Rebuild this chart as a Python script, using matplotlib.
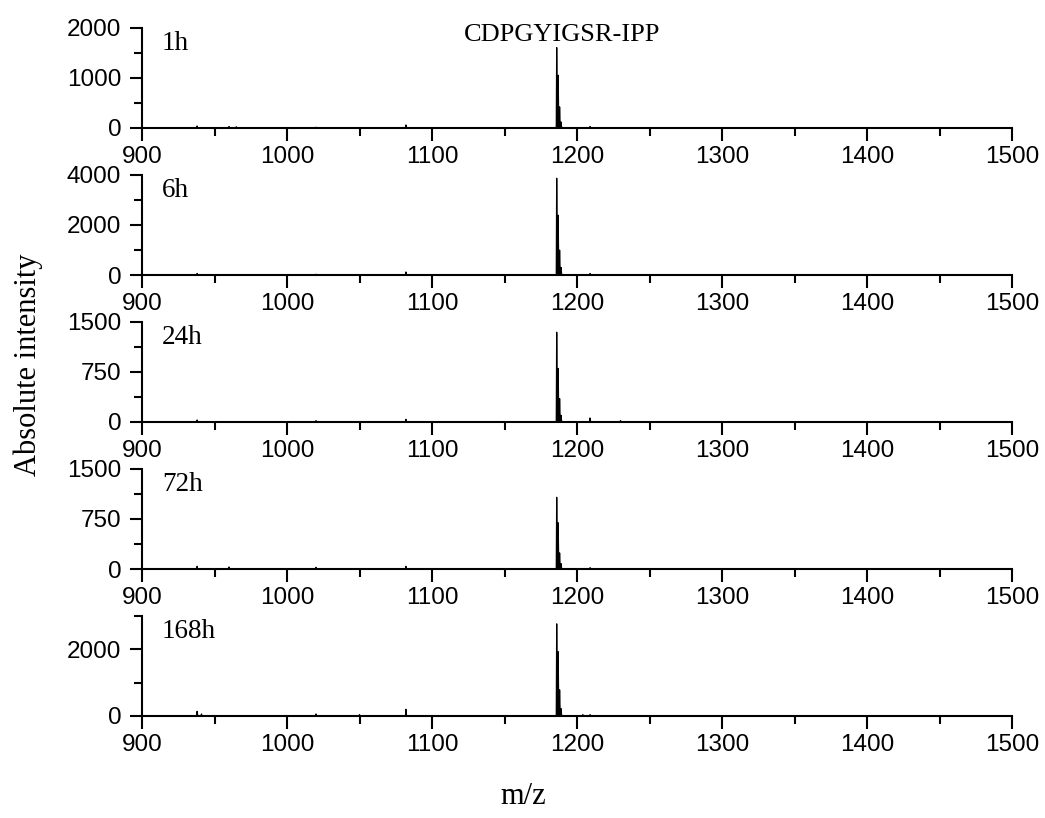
import matplotlib

matplotlib.use("Agg")
import matplotlib.pyplot as plt
from matplotlib.ticker import MultipleLocator


# Time points and the main isotope cluster of CDPGYIGSR-IPP
TIME_LABELS = ["1h", "6h", "24h", "72h", "168h"]
CLUSTER_MZ = [1186.0, 1187.0, 1188.0, 1189.0]
CLUSTER_HEIGHTS = [
    [1600, 1050, 420, 120],
    [3850, 2380, 990, 300],
    [1340, 800, 350, 100],
    [1070, 690, 240, 80],
    [2750, 1920, 780, 220],
]

# Small background peaks per time point (m/z, intensity)
MINOR_MZ = [
    [938, 960, 965, 1020, 1082, 1209],
    [938, 1020, 1082, 1209],
    [938, 1020, 1082, 1209, 1230],
    [938, 960, 1020, 1082, 1209],
    [938, 941, 1020, 1050, 1082, 1204, 1209],
]
MINOR_HEIGHTS = [
    [40, 30, 25, 15, 60, 30],
    [60, 30, 120, 60],
    [30, 20, 40, 60, 20],
    [40, 30, 25, 40, 20],
    [140, 60, 60, 40, 200, 40, 40],
]

Y_MAX = [2000, 4000, 1500, 1500, 3000]
Y_MAJOR = [1000, 2000, 750, 750, 2000]
Y_MINOR = [500, 1000, 375, 375, 1000]

SERIF = "Liberation Serif"
SANS = "Liberation Sans"


def stick_profile(mz_list, heights):
    """Turn centroid peaks into a thin triangular profile line."""
    pairs = sorted(zip(mz_list, heights))
    xs, ys = [900.0], [0.0]
    for mz, h in pairs:
        xs += [mz - 0.3, mz, mz + 0.45]
        ys += [0.0, h, 0.0]
    xs.append(1500.0)
    ys.append(0.0)
    return xs, ys


def make_figure():
    fig = plt.figure(figsize=(10.45, 8.18), dpi=100)
    W, H = 1045.0, 818.0
    left_px, right_px = 142.0, 1012.0
    bottoms_px = [128, 275, 422, 569, 716]
    height_px = 100.5

    for i, label in enumerate(TIME_LABELS):
        ax = fig.add_axes([
            left_px / W,
            1 - bottoms_px[i] / H,
            (right_px - left_px) / W,
            height_px / H,
        ])
        mz = CLUSTER_MZ + MINOR_MZ[i]
        hh = CLUSTER_HEIGHTS[i] + MINOR_HEIGHTS[i]
        xs, ys = stick_profile(mz, hh)
        ax.plot(xs, ys, color="black", linewidth=0.9)
        ax.fill(xs, ys, color="black", linewidth=0)

        ax.set_xlim(900, 1500)
        ax.set_ylim(0, Y_MAX[i])
        ax.xaxis.set_major_locator(MultipleLocator(100))
        ax.xaxis.set_minor_locator(MultipleLocator(50))
        ax.yaxis.set_major_locator(MultipleLocator(Y_MAJOR[i]))
        ax.yaxis.set_minor_locator(MultipleLocator(Y_MINOR[i]))

        for side in ("top", "right"):
            ax.spines[side].set_visible(False)
        for side in ("left", "bottom"):
            ax.spines[side].set_linewidth(1.5)
            ax.spines[side].set_capstyle("projecting")

        ax.tick_params(which="major", direction="out", length=9, width=1.5)
        ax.tick_params(which="minor", direction="out", length=5.5, width=1.5)
        ax.tick_params(axis="x", which="major", pad=4)
        ax.tick_params(axis="y", which="major", pad=6)
        for t in ax.get_xticklabels() + ax.get_yticklabels():
            t.set_fontfamily(SANS)
            t.set_fontsize(17.5)

        ax.text(0.023, 0.97, label, transform=ax.transAxes, ha="left", va="top",
                fontsize=19.5, family=SERIF)

        if i == 0:
            ax.text(1190, 1740, "CDPGYIGSR-IPP", ha="center", va="baseline",
                    fontsize=19, family=SERIF, clip_on=False)

    fig.text(28 / W, 1 - 365 / H, "Absolute intensity", rotation=90,
             ha="center", va="center", fontsize=22, family=SERIF)
    fig.text(523 / W, 1 - 797 / H, "m/z", ha="center", va="center",
             fontsize=22, family=SERIF)
    return fig


def main():
    fig = make_figure()
    fig.savefig("out.png", dpi=100)


if __name__ == "__main__":
    main()
